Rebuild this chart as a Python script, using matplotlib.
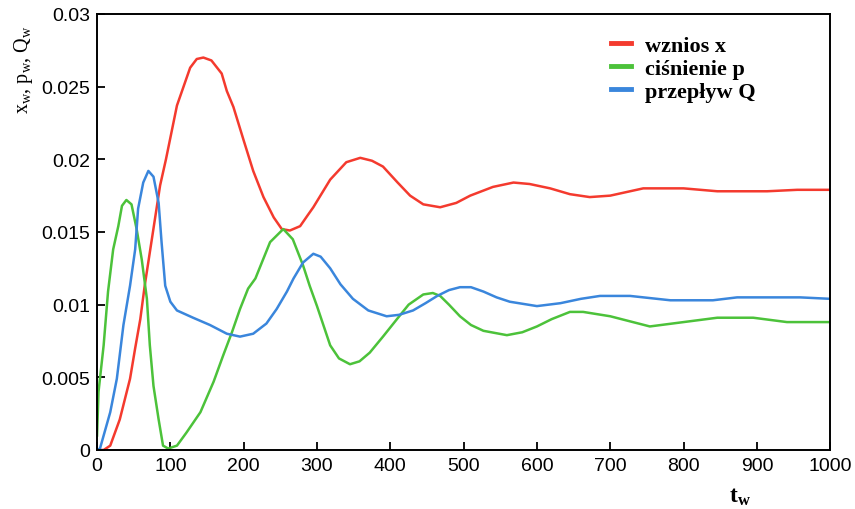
import matplotlib
matplotlib.use('Agg')
from matplotlib import pyplot as plt

# wznios x
t_x = [0, 9, 18, 31, 45, 52, 59, 65, 72, 79, 86, 94, 109, 127, 136, 145, 156, 170, 177, 186, 200,
       213, 227, 241, 252, 263, 277, 288, 295, 318, 340, 359, 375, 390, 410, 427, 445, 468, 490, 509,
       540, 568, 590, 618, 645, 672, 700, 745, 800, 846, 914, 955, 1000]
x_w = [0, 0, 0.0003, 0.0021, 0.0049, 0.0070, 0.0090, 0.0113, 0.0136, 0.0159, 0.0182, 0.0200, 0.0237,
       0.0263, 0.0269, 0.0270, 0.0268, 0.0259, 0.0247, 0.0236, 0.0213, 0.0192, 0.0174, 0.0160, 0.0152,
       0.0151, 0.0154, 0.0162, 0.0167, 0.0186, 0.0198, 0.0201, 0.0199, 0.0195, 0.0184, 0.0175, 0.0169,
       0.0167, 0.0170, 0.0175, 0.0181, 0.0184, 0.0183, 0.0180, 0.0176, 0.0174, 0.0175, 0.0180, 0.0180,
       0.0178, 0.0178, 0.0179, 0.0179]

# cisnienie p
t_p = [0, 2, 9, 15, 22, 29, 34, 40, 47, 54, 61, 68, 72, 77, 84, 90, 97, 109, 122, 141, 159, 172,
       184, 195, 206, 216, 236, 254, 267, 281, 290, 300, 310, 318, 330, 345, 358, 372, 390, 409, 425,
       445, 458, 468, 480, 495, 510, 527, 559, 580, 600, 620, 645, 663, 700, 754, 800, 846, 895, 941,
       1000]
p_w = [0.0010, 0.0040, 0.0072, 0.0109, 0.0138, 0.0154, 0.0168, 0.0172, 0.0169, 0.0152, 0.0131, 0.0104,
       0.0072, 0.0044, 0.0021, 0.0003, 0.0001, 0.0003, 0.0012, 0.0026, 0.0047, 0.0065, 0.0081, 0.0097,
       0.0111, 0.0118, 0.0143, 0.0152, 0.0145, 0.0127, 0.0113, 0.0099, 0.0084, 0.0072, 0.0063, 0.0059,
       0.0061, 0.0067, 0.0078, 0.0090, 0.0100, 0.0107, 0.0108, 0.0106, 0.0100, 0.0092, 0.0086, 0.0082,
       0.0079, 0.0081, 0.0085, 0.0090, 0.0095, 0.0095, 0.0092, 0.0085, 0.0088, 0.0091, 0.0091, 0.0088,
       0.0088]

# przeplyw Q
t_q = [0, 4, 18, 27, 36, 45, 52, 56, 63, 70, 77, 84, 88, 93, 100, 109, 131, 154, 177, 195, 213, 231,
       245, 259, 268, 281, 295, 305, 318, 332, 349, 370, 395, 412, 431, 448, 464, 480, 495, 510, 527,
       545, 563, 600, 632, 660, 686, 727, 782, 840, 873, 959, 1000]
q_w = [0, 0.0001, 0.0026, 0.0049, 0.0086, 0.0113, 0.0138, 0.0166, 0.0184, 0.0192, 0.0188, 0.0170,
       0.0143, 0.0113, 0.0102, 0.0096, 0.0091, 0.0086, 0.0080, 0.0078, 0.0080, 0.0087, 0.0097, 0.0109,
       0.0118, 0.0129, 0.0135, 0.0133, 0.0125, 0.0114, 0.0104, 0.0096, 0.0092, 0.0093, 0.0096, 0.0101,
       0.0106, 0.0110, 0.0112, 0.0112, 0.0109, 0.0105, 0.0102, 0.0099, 0.0101, 0.0104, 0.0106, 0.0106,
       0.0103, 0.0103, 0.0105, 0.0105, 0.0104]

x_ticks = [0, 100, 200, 300, 400, 500, 600, 700, 800, 900, 1000]
y_ticks = [0, 0.005, 0.01, 0.015, 0.02, 0.025, 0.03]
y_tick_labels = ['0', '0.005', '0.01', '0.015', '0.02', '0.025', '0.03']

plt.rcParams['mathtext.fontset'] = 'custom'
plt.rcParams['mathtext.rm'] = 'Liberation Serif'
plt.rcParams['mathtext.it'] = 'Liberation Serif'
plt.rcParams['mathtext.bf'] = 'Liberation Serif:bold'

fig = plt.figure(figsize=(8.55, 5.1), dpi=100)
ax = fig.add_axes([0.1135, 0.1157, 0.8575, 0.855])

ax.plot(t_x, x_w, color='#f43a2e', lw=1.8, label='wznios x', solid_joinstyle='round')
ax.plot(t_p, p_w, color='#4cc23a', lw=1.8, label='ciśnienie p', solid_joinstyle='round')
ax.plot(t_q, q_w, color='#3a86dc', lw=1.8, label='przepływ Q', solid_joinstyle='round')

ax.set_xlim(0, 1000)
ax.set_ylim(0, 0.03)
ax.set_xticks(x_ticks)
ax.set_yticks(y_ticks)
ax.set_yticklabels(y_tick_labels)
ax.tick_params(direction='in', length=6, width=1.3, labelsize=14, pad=5)
for lab in ax.get_xticklabels() + ax.get_yticklabels():
    lab.set_family('Liberation Sans')
for s in ax.spines.values():
    s.set_linewidth(1.4)

ax.set_ylabel(r'x$_\mathrm{w}$, p$_\mathrm{w}$, Q$_\mathrm{w}$', family='Liberation Serif', fontsize=14.5)
ax.yaxis.set_label_coords(-0.085, 0.875)
ax.set_xlabel(r'$\mathbf{t_w}$', fontsize=17)
ax.xaxis.set_label_coords(0.877, -0.075)

leg = ax.legend(loc='upper right', bbox_to_anchor=(0.91, 0.972), frameon=False, handlelength=0.9,
                handletextpad=0.6, labelspacing=0.12, borderaxespad=0,
                prop={'family': 'Liberation Serif', 'size': 16, 'weight': 'bold'})
for h in leg.get_lines():
    h.set_linewidth(3.5)

fig.savefig('out.png', dpi=100)
